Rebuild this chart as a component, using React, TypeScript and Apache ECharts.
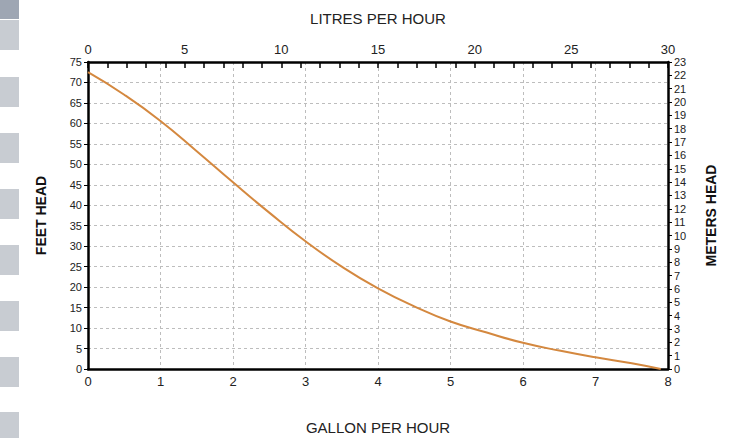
import React, { useEffect, useRef } from "react";
import * as echarts from "echarts";

const gallonsPerHour = [0, 0.5, 1, 1.5, 2, 2.5, 3, 3.5, 4, 4.5, 5, 5.5, 6, 6.5, 7, 7.5, 7.9];
const feetHead = [72.5, 67.0, 60.6, 53.2, 45.6, 38.2, 31.2, 25.0, 19.7, 15.3, 11.6, 8.9, 6.4, 4.5, 2.85, 1.4, 0];

const gallonRange = [0, 8];
const litreRange = [0, 30];
const feetRange = [0, 75];
const meterRange = [0, 23];

const sideSquaresY = [20, 77, 133, 189, 245, 301, 357, 412];

export default function App() {
  const ref = useRef<HTMLDivElement>(null);
  useEffect(() => {
    document.body.style.margin = "0";
    if (!ref.current) return;
    const chart = echarts.init(ref.current, undefined, { renderer: "svg" });
    const font = "Liberation Sans, Arial, sans-serif";
    const axisLine = { show: true, onZero: false, lineStyle: { color: "#000", width: 2.5 } };
    const graphics: any[] = [
      { type: "rect", shape: { x: 0, y: 0, width: 19, height: 19 }, style: { fill: "#9ea6b3" } },
      ...sideSquaresY.map((y) => ({
        type: "rect",
        shape: { x: 0, y, width: 19, height: 30 },
        style: { fill: "#c8ccd2" },
      })),
    ];
    chart.setOption({
      animation: false,
      backgroundColor: "#fff",
      textStyle: { fontFamily: font },
      graphic: graphics,
      grid: { left: 88, right: 73, top: 62, bottom: 69, containLabel: false, outerBoundsMode: "none" },
      xAxis: [
        {
          type: "value",
          position: "bottom",
          min: gallonRange[0],
          max: gallonRange[1],
          interval: 1,
          axisLine,
          axisTick: { show: false },
          minorTick: { show: false },
          minorSplitLine: { show: false },
          axisLabel: { color: "#222", fontSize: 13, margin: 6, fontFamily: font },
          splitLine: { show: true, lineStyle: { color: "#bdbdbd", type: [3, 3], width: 1 } },
          name: "GALLON PER HOUR",
          nameLocation: "middle",
          nameGap: 51,
          nameTextStyle: { color: "#222", fontSize: 15, fontFamily: font },
        },
        {
          type: "value",
          position: "top",
          min: litreRange[0],
          max: litreRange[1],
          interval: 5,
          axisLine,
          axisTick: { show: true, inside: true, length: 6, lineStyle: { color: "#000", width: 1.5 } },
          minorTick: { show: true, splitNumber: 5, length: 6, lineStyle: { color: "#000", width: 1.5 } },
          axisLabel: { color: "#222", fontSize: 13, margin: 6, fontFamily: font },
          splitLine: { show: false },
          name: "LITRES PER HOUR",
          nameLocation: "middle",
          nameGap: 36,
          nameTextStyle: { color: "#222", fontSize: 15, fontFamily: font },
        },
      ],
      yAxis: [
        {
          type: "value",
          position: "left",
          min: feetRange[0],
          max: feetRange[1],
          interval: 5,
          axisLine,
          axisTick: { show: true, length: 4, lineStyle: { color: "#000", width: 1 } },
          axisLabel: { color: "#222", fontSize: 11, margin: 6, fontFamily: font },
          splitLine: { show: true, lineStyle: { color: "#bdbdbd", type: [3, 3], width: 1 } },
          name: "FEET HEAD",
          nameLocation: "middle",
          nameRotate: 90,
          nameGap: 40,
          nameTextStyle: { color: "#111", fontSize: 14, fontWeight: "bold", fontFamily: font },
        },
        {
          type: "value",
          position: "right",
          min: meterRange[0],
          max: meterRange[1],
          interval: 1,
          axisLine,
          axisTick: { show: true, length: 4, lineStyle: { color: "#000", width: 1 } },
          axisLabel: { color: "#222", fontSize: 11, margin: 6, fontFamily: font },
          splitLine: { show: false },
          name: "METERS HEAD",
          nameLocation: "middle",
          nameRotate: 90,
          nameGap: 36,
          nameTextStyle: { color: "#111", fontSize: 14, fontWeight: "bold", fontFamily: font },
        },
      ],
      series: [
        {
          type: "line",
          xAxisIndex: 0,
          yAxisIndex: 0,
          smooth: 0.5,
          symbol: "none",
          lineStyle: { color: "#d4883f", width: 2 },
          data: gallonsPerHour.map((g, i) => [g, feetHead[i]]),
        },
      ],
    });
    return () => chart.dispose();
  }, []);
  return <div ref={ref} style={{ width: 741, height: 438, overflow: "hidden" }} />;
}
